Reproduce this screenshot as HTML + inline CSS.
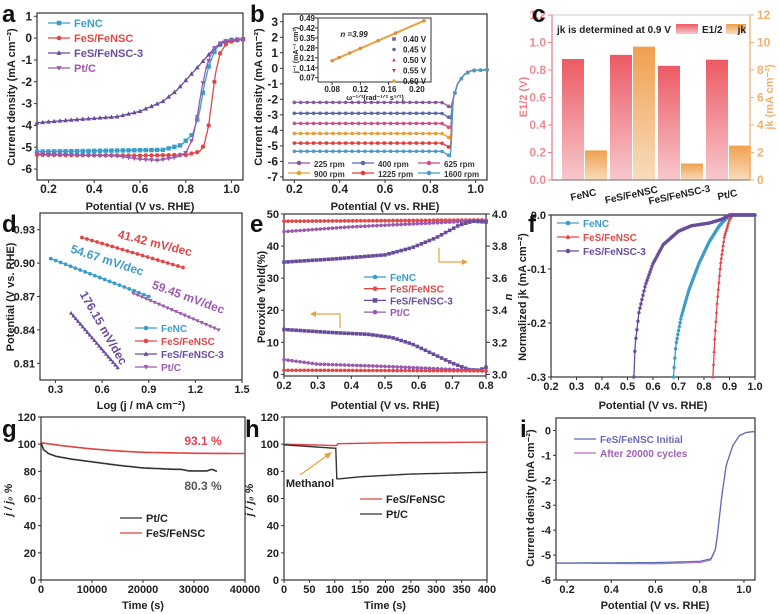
<!DOCTYPE html>
<html><head><meta charset="utf-8">
<style>
html,body{margin:0;padding:0;background:#fff;}
svg{display:block;font-family:"Liberation Sans",Arial,sans-serif;font-weight:bold;}
</style></head>
<body>
<svg id="s" width="779" height="614" viewBox="0 0 779 614" xmlns="http://www.w3.org/2000/svg"></svg>
<script>
const S=document.getElementById('s');
const NS='http://www.w3.org/2000/svg';
function el(t,a,txt){const e=document.createElementNS(NS,t);for(const k in a)e.setAttribute(k,a[k]);if(txt!==undefined)e.textContent=txt;S.appendChild(e);return e;}
function T(x,y,s,o={}){return el('text',Object.assign({x:x,y:y,'font-size':o.fs||11,fill:o.fill||'#222','text-anchor':o.anchor||'middle'},o.rot!==undefined?{transform:`rotate(${o.rot} ${x} ${y})`}:{},o.extra||{}),s);}
function Ax(x0,x1,y0,y1,xa,xb,ya,yb){return {x0,x1,y0,y1,px:v=>x0+(v-xa)/(xb-xa)*(x1-x0),py:v=>y1-(v-ya)/(yb-ya)*(y1-y0)};}
function box(a){el('rect',{x:a.x0,y:a.y0,width:a.x1-a.x0,height:a.y1-a.y0,fill:'none',stroke:'#333','stroke-width':1.2});}
function xt(a,vals,lab,o={}){vals.forEach((v,i)=>{const x=a.px(v);el('line',{x1:x,x2:x,y1:a.y1,y2:a.y1+3,stroke:'#333'});if(lab)T(x,a.y1+13,lab[i],{fs:o.fs||11});});}
function yt(a,vals,lab,o={}){vals.forEach((v,i)=>{const y=a.py(v);el('line',{x1:a.x0-3,x2:a.x0,y1:y,y2:y,stroke:'#333'});if(lab)T(a.x0-5,y+4,lab[i],{fs:o.fs||11,anchor:'end',fill:o.fill||'#222'});});}
function interp(pts,x){for(let i=0;i<pts.length-1;i++){if(x>=pts[i][0]&&x<=pts[i+1][0]){const t=(x-pts[i][0])/(pts[i+1][0]-pts[i][0]);return pts[i][1]+t*(pts[i+1][1]-pts[i][1]);}}return pts[pts.length-1][1];}
function curve(a,pts,col,o={}){const n=o.n||200;let d='';const xa=pts[0][0],xb=pts[pts.length-1][0];const P=[];for(let i=0;i<=n;i++){const x=xa+(xb-xa)*i/n;const y=interp(pts,x);P.push([a.px(x),a.py(y)]);}
 d=P.map((p,i)=>(i?'L':'M')+p[0].toFixed(1)+','+p[1].toFixed(1)).join('');el('path',{d:d,fill:'none',stroke:col,'stroke-width':o.w||1.3});
 if(o.m){const m=o.m;const k=o.mn||30;for(let i=0;i<=k;i++){const x=xa+(xb-xa)*i/k;mk(a.px(x),a.py(interp(pts,x)),m,col,o.ms||2.2);}}}
function mk(x,y,m,col,r){if(m=='s')el('rect',{x:x-r,y:y-r,width:2*r,height:2*r,fill:col});else if(m=='o')el('circle',{cx:x,cy:y,r:r,fill:col});else if(m=='^')el('polygon',{points:`${x},${y-r*1.2} ${x-r*1.1},${y+r*0.8} ${x+r*1.1},${y+r*0.8}`,fill:col});else if(m=='v')el('polygon',{points:`${x},${y+r*1.2} ${x-r*1.1},${y-r*0.8} ${x+r*1.1},${y-r*0.8}`,fill:col});}
function leg(x,y,col,m,txt,o={}){el('line',{x1:x,x2:x+22,y1:y,y2:y,stroke:col,'stroke-width':1.3});if(m)mk(x+11,y,m,col,2.3);T(x+26,y+4,txt,{fs:o.fs||11,anchor:'start',fill:o.fill||col});}
const BL='#3c9ec8',RD='#e04848',PU='#6a4c9c',PT='#9c5aae';
function letter(x,y,s){T(x,y,s,{fs:24,anchor:'start',fill:'#111'});}

// ---------- a
let a=Ax(37,243,13,180,0.15,1.05,-6.5,1.15);
box(a);
xt(a,[0.2,0.4,0.6,0.8,1.0],['0.2','0.4','0.6','0.8','1.0'],{fs:12});
yt(a,[1,0,-1,-2,-3,-4,-5,-6],['1','0','-1','-2','-3','-4','-5','-6'],{fs:12});
letter(2,22,'a');
T(a.px(0.6),210,'Potential (V vs. RHE)',{fs:11});
T(15,97,'Current density (mA cm⁻²)',{fs:11,rot:-90});
curve(a,[[0.15,-5.2],[0.7,-5.12],[0.78,-4.9],[0.83,-4.4],[0.86,-3.4],[0.88,-2.2],[0.9,-1.3],[0.93,-0.5],[0.96,-0.2],[1.0,-0.08],[1.05,-0.05]],BL,{m:'s',mn:36});
curve(a,[[0.15,-5.35],[0.6,-5.38],[0.8,-5.35],[0.86,-5.2],[0.88,-4.9],[0.9,-4.0],[0.91,-3.2],[0.93,-1.6],[0.95,-0.7],[0.98,-0.2],[1.05,-0.05]],RD,{m:'o',mn:36});
curve(a,[[0.15,-3.88],[0.3,-3.75],[0.5,-3.6],[0.6,-3.35],[0.7,-2.9],[0.76,-2.4],[0.82,-1.7],[0.88,-1.0],[0.93,-0.4],[0.98,-0.1],[1.05,-0.05]],PU,{m:'^',mn:36});
curve(a,[[0.15,-5.3],[0.5,-5.4],[0.6,-5.55],[0.68,-5.6],[0.76,-5.45],[0.8,-5.25],[0.83,-4.6],[0.85,-3.6],[0.87,-2.3],[0.89,-1.3],[0.92,-0.5],[0.96,-0.15],[1.05,-0.05]],PT,{m:'v',mn:36});
leg(48,23,BL,'s','FeNC');leg(48,38,RD,'o','FeS/FeNSC');leg(48,53,PU,'^','FeS/FeNSC-3');leg(48,68,PT,'v','Pt/C');

// ---------- b
let b=Ax(283,487,14,180,0.15,1.05,-7.2,3.5);
box(b);
xt(b,[0.2,0.4,0.6,0.8,1.0],['0.2','0.4','0.6','0.8','1.0'],{fs:12});
yt(b,[3,2,1,0,-1,-2,-3,-4,-5,-6,-7],['3','2','1','0','-1','-2','-3','-4','-5','-6','-7'],{fs:12});
letter(250,22,'b');
T(b.px(0.6),210,'Potential (V vs. RHE)',{fs:11});
T(262,97,'Current density (mA cm⁻²)',{fs:11,rot:-90});
const bc=[['#8a5a9e',-2.2,'225 rpm'],['#5a6aa8',-2.9,'400 rpm'],['#d04e8a',-3.55,'625 rpm'],['#e8a030',-4.2,'900 rpm'],['#e03c3c',-4.82,'1225 rpm'],['#4a9ac8',-5.35,'1600 rpm']];
bc.forEach(c=>{const L=c[1];curve(b,[[0.2,L],[0.85,L],[0.875,L-0.2],[0.89,L-0.35],[0.9,-2.0],[0.92,-1.0],[0.95,-0.4],[0.98,-0.15],[1.05,-0.1]],c[0],{m:'o',mn:30,ms:1.8});});
leg(288,163,'#8a5a9e','o','225 rpm',{fs:8,fill:'#333'});leg(352,163,'#5a6aa8','o','400 rpm',{fs:8,fill:'#333'});leg(418,163,'#d04e8a','o','625 rpm',{fs:8,fill:'#333'});
leg(288,173,'#e8a030','o','900 rpm',{fs:8,fill:'#333'});leg(352,173,'#e03c3c','o','1225 rpm',{fs:8,fill:'#333'});leg(418,173,'#4a9ac8','o','1600 rpm',{fs:8,fill:'#333'});
// inset
let bi=Ax(318,431,18,82,0.06,0.22,0.04,0.49);
el('rect',{x:318,y:18,width:113,height:64,fill:'#fff',stroke:'#333'});
[0.49,0.42,0.35,0.28,0.21,0.14,0.07].forEach(v=>{const y=bi.py(v);el('line',{x1:315,x2:318,y1:y,y2:y,stroke:'#333'});T(315,y+3,v.toFixed(2),{fs:8,anchor:'end'});});
[0.08,0.12,0.16,0.20].forEach(v=>{const x=bi.px(v);el('line',{x1:x,x2:x,y1:82,y2:85,stroke:'#333'});T(x,92,v.toFixed(2),{fs:8});});
T(375,100,'ω⁻¹ᐟ²(rad⁻¹ᐟ² s¹ᐟ²)',{fs:7});
T(298,50,'j⁻¹ (mA⁻¹ cm²)',{fs:7,rot:-90});
el('line',{x1:bi.px(0.08),y1:bi.py(0.19),x2:bi.px(0.21),y2:bi.py(0.47),stroke:'#e8a040','stroke-width':2});
[0.08,0.09,0.105,0.12,0.145,0.17,0.21].forEach(v=>mk(bi.px(v),bi.py(0.19+(v-0.08)*(0.28/0.13)),'o','#d89040',1.8));
T(354,37,'n =3.99',{fs:8,fill:'#222',extra:{'font-style':'italic'}});
[['0.40 V','#8a5a9e','s'],['0.45 V','#5a6aa8','o'],['0.50 V','#d04e8a','^'],['0.55 V','#d03c5c','v'],['0.60 V','#e8a030','o']].forEach((c,i)=>{mk(394,39+i*10.5,c[2],c[1],1.8);T(403,42+i*10.5,c[0],{fs:8,anchor:'start'});});

// ---------- c
let c=Ax(552,750,15,180,0,0,0,1.2);c.py=v=>180-v/1.2*165;
el('defs',{}).innerHTML='<linearGradient id="gr" x1="0" y1="0" x2="0" y2="1"><stop offset="0" stop-color="#ec5a64"/><stop offset="1" stop-color="#f7c8cc"/></linearGradient><linearGradient id="go" x1="0" y1="0" x2="0" y2="1"><stop offset="0" stop-color="#efa050"/><stop offset="1" stop-color="#f8dcbc"/></linearGradient>';
const cb=[[0.88,2.15,'FeNC'],[0.91,9.7,'FeS/FeNSC'],[0.83,1.2,'FeS/FeNSC-3'],[0.875,2.5,'Pt/C']];
cb.forEach((v,i)=>{const x=562+i*48;el('rect',{x:x,y:c.py(v[0]),width:22,height:180-c.py(v[0]),fill:'url(#gr)'});el('rect',{x:x+23,y:c.py(v[1]/10),width:22,height:180-c.py(v[1]/10),fill:'url(#go)'});T(x+22,198,v[2],{fs:10,rot:-12});});
el('rect',{x:552,y:15,width:198,height:165,fill:'none',stroke:'#ccc','stroke-width':1});
el('line',{x1:552,x2:552,y1:15,y2:180,stroke:'#f08088','stroke-width':1.3});
el('line',{x1:750,x2:750,y1:15,y2:180,stroke:'#f0b070','stroke-width':1.3});
el('line',{x1:552,x2:750,y1:180,y2:180,stroke:'#888','stroke-width':1.3});
[0,0.2,0.4,0.6,0.8,1.0,1.2].forEach(v=>{const y=c.py(v);el('line',{x1:548,x2:552,y1:y,y2:y,stroke:'#f08088'});T(546,y+4,v.toFixed(1),{fs:12,anchor:'end',fill:'#f08a90'});});
[0,2,4,6,8,10,12].forEach(v=>{const y=c.py(v/10);el('line',{x1:750,x2:754,y1:y,y2:y,stroke:'#f0b070'});T(757,y+4,String(v),{fs:12,anchor:'start',fill:'#f0b070'});});
letter(532,22,'c');
T(527,97,'E1/2 (V)',{fs:11,rot:-90,fill:'#f08088'});
T(773,97,'jk (mA cm⁻²)',{fs:11,rot:-90,fill:'#f0b070'});
T(557,33,'jk is determined at 0.9 V',{fs:10,anchor:'start'});
el('rect',{x:676,y:24,width:22,height:10,fill:'url(#gr)'});T(702,33,'E1/2',{fs:10,anchor:'start'});
el('rect',{x:726,y:24,width:20,height:10,fill:'url(#go)'});T(746,33,'jk',{fs:10,anchor:'end'});

// ---------- d
let d=Ax(40,242,213,380,0.2,1.5,0.795,0.945);
box(d);
xt(d,[0.3,0.6,0.9,1.2,1.5],['0.3','0.6','0.9','1.2','1.5']);
yt(d,[0.93,0.90,0.87,0.84,0.81],['0.93','0.90','0.87','0.84','0.81']);
letter(2,232,'d');
T(141,409,'Log (j / mA cm⁻²)',{fs:11});
T(14,297,'Potential (V vs. RHE)',{fs:11,rot:-90});
curve(d,[[0.27,0.904],[0.9,0.870]],BL,{m:'o',mn:20,ms:1.9});
curve(d,[[0.47,0.923],[1.12,0.896]],RD,{m:'o',mn:20,ms:1.9});
curve(d,[[0.4,0.855],[0.7,0.806]],PU,{m:'^',mn:20,ms:1.9});
curve(d,[[0.8,0.873],[1.35,0.840]],PT,{m:'v',mn:20,ms:1.9});
T(154,247,'41.42 mV/dec',{fs:12,fill:RD,rot:14});
T(106,264,'54.67 mV/dec',{fs:12,fill:BL,rot:18});
T(187,301,'59.45 mV/dec',{fs:12,fill:PT,rot:20});
T(100,330,'176.15 mV/dec',{fs:12,fill:PU,rot:60});
leg(135,328,BL,'o','FeNC',{fs:10});leg(135,341,RD,'o','FeS/FeNSC',{fs:10});leg(135,354,PU,'^','FeS/FeNSC-3',{fs:10});leg(135,367,PT,'v','Pt/C',{fs:10});

// ---------- e
let e=Ax(284,486,214,376,0.2,0.8,-0.5,50);
box(e);
xt(e,[0.2,0.3,0.4,0.5,0.6,0.7,0.8],['0.2','0.3','0.4','0.5','0.6','0.7','0.8']);
yt(e,[0,10,20,30,40,50],['0','10','20','30','40','50']);
[3.0,3.2,3.4,3.6,3.8,4.0].forEach(v=>{const y=e.py((v-3)*50);el('line',{x1:486,x2:490,y1:y,y2:y,stroke:'#333'});T(492,y+4,v.toFixed(1),{fs:11,anchor:'start'});});
letter(250,232,'e');
T(385,409,'Potential (V vs. RHE)',{fs:11});
T(265,297,'Peroxide Yield(%)',{fs:11,rot:-90});
T(512,297,'n',{fs:11,rot:-90,extra:{'font-style':'italic'}});
const N=v=>(v-3)*50;
curve(e,[[0.2,N(3.955)],[0.8,N(3.965)]],'#e8808a',{m:'o',mn:50,ms:1.8});
curve(e,[[0.2,N(3.955)],[0.8,N(3.96)]],RD,{m:'o',mn:50,ms:1.8});
curve(e,[[0.2,N(3.89)],[0.4,N(3.92)],[0.6,N(3.94)],[0.8,N(3.96)]],PT,{m:'o',mn:50,ms:1.8});
curve(e,[[0.2,N(3.7)],[0.35,N(3.72)],[0.5,N(3.745)],[0.58,N(3.79)],[0.65,N(3.85)],[0.72,N(3.93)],[0.76,N(3.955)],[0.8,N(3.95)]],PU,{m:'s',mn:50,ms:1.8});
curve(e,[[0.2,14],[0.35,13],[0.45,12.5],[0.52,11.5],[0.58,9.5],[0.64,6.5],[0.7,3.5],[0.75,1.5],[0.78,1.3],[0.8,2.2]],PU,{m:'s',mn:50,ms:1.8});
curve(e,[[0.2,4.6],[0.3,3.2],[0.5,2.5],[0.65,1.8],[0.8,1.0]],PT,{m:'o',mn:50,ms:1.8});
curve(e,[[0.2,1.3],[0.8,1.1]],RD,{m:'o',mn:50,ms:1.8});
el('polyline',{points:'439,248 439,262 463,262',fill:'none',stroke:'#e8a040','stroke-width':1.2});
el('polygon',{points:'468,262 462,259 462,265',fill:'#e8a040'});
el('polyline',{points:'340,328 340,314 315,314',fill:'none',stroke:'#e8a040','stroke-width':1.2});
el('polygon',{points:'310,314 316,311 316,317',fill:'#e8a040'});
[['FeNC',BL,'o'],['FeS/FeNSC',RD,'o'],['FeS/FeNSC-3',PU,'s'],['Pt/C',PT,'o']].forEach((q,i)=>leg(364,277+i*11.7,q[1],q[2],q[0],{fs:10}));

// ---------- f
let f=Ax(551,755,215,377,0.2,1.0,-0.3,0);
box(f);
xt(f,[0.2,0.3,0.4,0.5,0.6,0.7,0.8,0.9,1.0],['0.2','0.3','0.4','0.5','0.6','0.7','0.8','0.9','1.0']);
yt(f,[0,-0.1,-0.2,-0.3],['0.0','-0.1','-0.2','-0.3']);
letter(528,232,'f');
T(653,409,'Potential (V vs. RHE)',{fs:11});
T(526,297,'Normalized jk (mA cm⁻²)',{fs:11,rot:-90});
curve(f,[[0.68,-0.3],[0.69,-0.24],[0.71,-0.19],[0.74,-0.14],[0.78,-0.09],[0.82,-0.05],[0.86,-0.02],[0.9,0],[1.0,0]],BL,{m:'o',mn:110,ms:1.7});
curve(f,[[0.835,-0.3],[0.842,-0.23],[0.852,-0.16],[0.865,-0.09],[0.88,-0.04],[0.9,-0.008],[0.91,0],[1.0,0]],RD,{m:'^',mn:70,ms:1.7});
curve(f,[[0.525,-0.3],[0.53,-0.24],[0.545,-0.18],[0.57,-0.13],[0.6,-0.09],[0.64,-0.055],[0.7,-0.03],[0.75,-0.02],[0.82,-0.015],[0.87,-0.008],[0.9,0],[1.0,0]],PU,{m:'o',mn:120,ms:1.7});
leg(557,223,BL,'o','FeNC',{fs:10});leg(557,237,RD,'^','FeS/FeNSC',{fs:10});leg(557,251,PU,'o','FeS/FeNSC-3',{fs:10});

// ---------- g
let g=Ax(41,245,417,580,0,40000,0,120);
box(g);
xt(g,[0,10000,20000,30000,40000],['0','10000','20000','30000','40000']);
yt(g,[0,20,40,60,80,100,120],['0','20','40','60','80','100','120']);
letter(2,437,'g');
T(143,609,'Time (s)',{fs:11});
T(12,500,'j / j₀ %',{fs:11,rot:-90,extra:{'font-style':'italic'}});
curve(g,[[0,101],[5000,98.5],[10000,96.5],[15000,95],[20000,94],[30000,93.3],[40000,93.1]],'#e04040',{w:1.6});
curve(g,[[0,101],[500,96],[1500,93],[3000,91],[6000,89],[10000,87],[15000,84.5],[20000,82.5],[26000,81.5],[27500,81.5],[29000,80.3],[32500,80.3],[33500,81.5],[34500,80]],'#333',{w:1.6});
T(203,445,'93.1 %',{fs:12,fill:'#e04050'});
T(203,490,'80.3 %',{fs:12,fill:'#555'});
leg(120,518,'#333',null,'Pt/C',{fs:11,fill:'#222'});leg(120,533,'#e04040',null,'FeS/FeNSC',{fs:11,fill:'#222'});

// ---------- h
let h=Ax(284,487,417,580,0,400,0,120);
box(h);
xt(h,[0,50,100,150,200,250,300,350,400],['0','50','100','150','200','250','300','350','400']);
yt(h,[0,20,40,60,80,100,120],['0','20','40','60','80','100','120']);
letter(245,437,'h');
T(385,609,'Time (s)',{fs:11});
T(253,500,'j / j₀ %',{fs:11,rot:-90,extra:{'font-style':'italic'}});
curve(h,[[0,100],[100,99],[104,99.2],[105,100.3],[200,101],[400,101.5]],'#e04040',{w:1.4});
curve(h,[[0,99.5],[100,97],[102,97],[103,74.5],[110,74.5],[150,76],[250,78],[400,79.3]],'#333',{w:1.4});
el('line',{x1:300,y1:475,x2:328,y2:455,stroke:'#e8a040','stroke-width':1.3});
el('polygon',{points:'332,452 324,454 328,459',fill:'#e8a040'});
T(310,487,'Methanol',{fs:11});
leg(360,499,'#e04040',null,'FeS/FeNSC',{fs:11,fill:'#222'});leg(360,514,'#333',null,'Pt/C',{fs:11,fill:'#222'});

// ---------- i
let iA=Ax(556,755,418,580,0.15,1.05,-6,0.5);
box(iA);
xt(iA,[0.2,0.4,0.6,0.8,1.0],['0.2','0.4','0.6','0.8','1.0']);
yt(iA,[0,-1,-2,-3,-4,-5,-6],['0','-1','-2','-3','-4','-5','-6']);
letter(520,437,'i');
T(655,609,'Potential (V vs. RHE)',{fs:11});
T(534,498,'Current density (mA cm⁻²)',{fs:11,rot:-90});
const ip=[[0.15,-5.32],[0.6,-5.3],[0.8,-5.25],[0.85,-5.15],[0.87,-4.8],[0.88,-4.2],[0.9,-2.6],[0.92,-1.4],[0.95,-0.6],[0.98,-0.2],[1.01,-0.08],[1.05,-0.04]];
curve(iA,ip.map(p=>[p[0],p[1]-(p[0]>0.5&&p[0]<0.86?0.05:0)]),'#b070c0',{w:1.2});
curve(iA,ip,'#5a6ab8',{w:1.2});
leg(574,439,'#5a6ab8',null,'FeS/FeNSC Initial',{fs:10,fill:'#6a6ab8'});leg(574,453,'#b070c0',null,'After 20000 cycles',{fs:10,fill:'#a060b8'});
</script>
</body></html>
